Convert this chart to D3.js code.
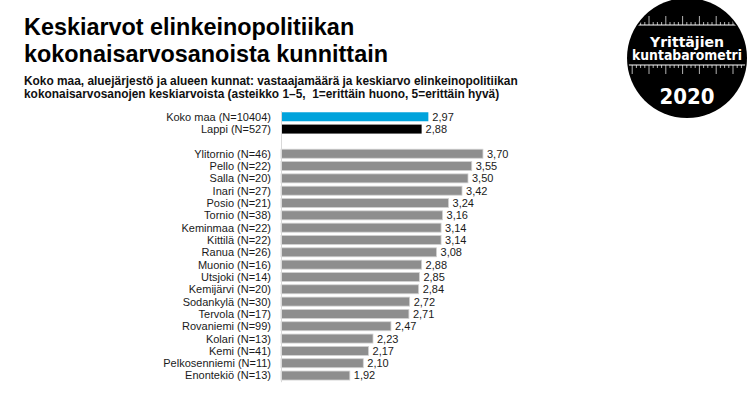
<!DOCTYPE html>
<html>
<head>
<meta charset="utf-8">
<script src="https://cdn.jsdelivr.net/npm/d3@7"></script>
<style>
  body { margin: 0; background: #fff; }
  svg { font-family: "Liberation Sans", Arial, sans-serif; }
</style>
</head>
<body>
<div id="chart"></div>
<script>
/* DATA */
const areas = ["Koko maa", "Lappi", "", "Ylitornio", "Pello", "Salla", "Inari", "Posio", "Tornio",
  "Keminmaa", "Kittilä", "Ranua", "Muonio", "Utsjoki", "Kemijärvi", "Sodankylä", "Tervola",
  "Rovaniemi", "Kolari", "Kemi", "Pelkosenniemi", "Enontekiö"];
const respondents = [10404, 527, null, 46, 22, 20, 27, 21, 38, 22, 22, 26, 16, 14, 20, 30, 17, 99, 13, 41, 11, 13];
const averages = [2.97, 2.88, null, 3.70, 3.55, 3.50, 3.42, 3.24, 3.16, 3.14, 3.14, 3.08, 2.88, 2.85,
  2.84, 2.72, 2.71, 2.47, 2.23, 2.17, 2.10, 1.92];
const titleLines = ["Keskiarvot elinkeinopolitiikan", "kokonaisarvosanoista kunnittain"];
const subtitleLines = ["Koko maa, aluejärjestö ja alueen kunnat: vastaajamäärä ja keskiarvo elinkeinopolitiikan",
  "kokonaisarvosanojen keskiarvoista (asteikko 1–5,  1=erittäin huono, 5=erittäin hyvä)"];

/* CONSTANTS */
const width = 750;
const height = 397;

const rows = areas.map((a, i) => ({key: "r" + i, area: a, n: respondents[i], value: averages[i]}))
const bars = rows.filter(d => d.value != null)

const svg = d3.select("#chart")
  .append("svg")
  .attr("width", width)
  .attr("height", height)

// Title + subtitle
svg.append("g").selectAll("text")
  .data(titleLines)
  .join("text")
  .attr("x", 24)
  .attr("y", (d, i) => 35 + i * 26.5)
  .style("font-size", "23.4px")
  .style("font-weight", "bold")
  .style("fill", "#000")
  .text(d => d)

svg.append("g").selectAll("text")
  .data(subtitleLines)
  .join("text")
  .attr("x", 24)
  .attr("y", (d, i) => 84.5 + i * 13.4)
  .style("font-size", "11.9px")
  .style("font-weight", "bold")
  .style("fill", "#111")
  .style("white-space", "pre")
  .text(d => d)

// Scales
const xScale = d3.scaleLinear()
  .domain([1, 5])
  .range([281, 580.2])

const yScale = d3.scaleBand()
  .domain(rows.map(d => d.key))
  .range([110.6, 381.7])
  .paddingInner(0.27)
  .paddingOuter(0.135)

const fmt = d3.format(".2f")

const colorOf = d => d.area === "Koko maa" ? "#00a3dc" : d.area === "Lappi" ? "#000" : "#8e8e8e"

// Bars
svg.append("g").selectAll("rect")
  .data(bars)
  .join("rect")
  .attr("x", xScale(1))
  .attr("y", d => yScale(d.key))
  .attr("width", d => xScale(d.value) - xScale(1))
  .attr("height", yScale.bandwidth())
  .attr("fill", colorOf)
  .attr("stroke", d => d.area === "Koko maa" || d.area === "Lappi" ? "none" : "#d2d2d2")
  .attr("stroke-width", 0.8)

// axis line
const yAxis = d3.axisLeft(yScale).tickSize(0).tickFormat("")
svg.append("g")
  .attr("transform", `translate(${xScale(1)},0)`)
  .call(yAxis)
  .call(g => g.select(".domain").attr("stroke", "#d9d9d9"))

// Category labels
svg.append("g").selectAll("text")
  .data(bars)
  .join("text")
  .attr("x", 271)
  .attr("y", d => yScale(d.key) + yScale.bandwidth() / 2)
  .attr("dy", "0.36em")
  .attr("text-anchor", "end")
  .style("font-size", "11px")
  .style("fill", "#1a1a1a")
  .text(d => `${d.area} (N=${d.n})`)

// Value labels
svg.append("g").selectAll("text")
  .data(bars)
  .join("text")
  .attr("x", d => xScale(d.value) + 4)
  .attr("y", d => yScale(d.key) + yScale.bandwidth() / 2)
  .attr("dy", "0.36em")
  .style("font-size", "11px")
  .style("fill", "#1a1a1a")
  .text(d => fmt(d.value).replace(".", ","))

// Logo
const cx = 687, cy = 58, r = 60
const logo = svg.append("g")
logo.append("circle")
  .attr("cx", cx).attr("cy", cy).attr("r", r)
  .attr("fill", "#000")

const clip = svg.append("clipPath").attr("id", "logoclip")
clip.append("circle").attr("cx", cx).attr("cy", cy).attr("r", r - 1.5)
const ruler = logo.append("g").attr("clip-path", "url(#logoclip)")

const lineYs = [25, 65]
lineYs.forEach((ly, k) => {
  ruler.append("line")
    .attr("x1", cx - r).attr("x2", cx + r)
    .attr("y1", ly).attr("y2", ly)
    .attr("stroke", "#fff").attr("stroke-width", 1)
  const ticks = d3.range(cx - r + 1, cx + r, 4.2)
  ruler.selectAll(null)
    .data(ticks)
    .join("line")
    .attr("x1", d => d).attr("x2", d => d)
    .attr("y1", ly)
    .attr("y2", (d, i) => ly + (k === 0 ? -1 : 1) * (i % 4 === 1 ? 9 : 3))
    .attr("stroke", "#fff").attr("stroke-width", 0.7)
})

logo.append("text")
  .attr("x", cx).attr("y", 46.5)
  .attr("text-anchor", "middle")
  .attr("textLength", 74)
  .attr("lengthAdjust", "spacingAndGlyphs")
  .style("font-family", "'DejaVu Sans Condensed', 'DejaVu Sans', sans-serif")
  .style("font-weight", "bold")
  .style("font-size", "14px")
  .style("fill", "#fff")
  .text("Yrittäjien")
logo.append("text")
  .attr("x", cx).attr("y", 60)
  .attr("text-anchor", "middle")
  .attr("textLength", 110)
  .attr("lengthAdjust", "spacingAndGlyphs")
  .style("font-family", "'DejaVu Sans Condensed', 'DejaVu Sans', sans-serif")
  .style("font-weight", "bold")
  .style("font-size", "14px")
  .style("fill", "#fff")
  .text("kuntabarometri")
logo.append("text")
  .attr("x", cx).attr("y", 104)
  .attr("text-anchor", "middle")
  .attr("textLength", 55)
  .attr("lengthAdjust", "spacingAndGlyphs")
  .style("font-family", "'DejaVu Sans', sans-serif")
  .style("font-weight", "bold")
  .style("font-size", "21.5px")
  .style("fill", "#fff")
  .text("2020")
</script>
</body>
</html>
